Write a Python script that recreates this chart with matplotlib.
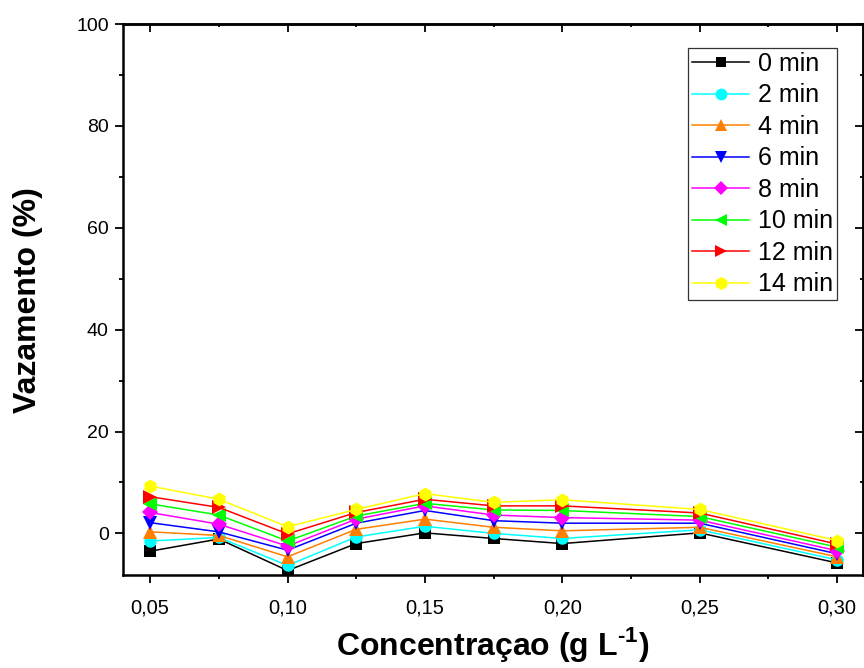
import numpy as np
import matplotlib
matplotlib.use('Agg')
import matplotlib.pyplot as plt
from matplotlib.ticker import MultipleLocator, FuncFormatter

plt.rcParams['font.family'] = ['Liberation Sans', 'DejaVu Sans']
plt.rcParams['mathtext.fontset'] = 'custom'
plt.rcParams['mathtext.rm'] = 'Liberation Sans:bold'

# concentration (g/L) and leakage (%) for each time
concentracao = [0.05, 0.075, 0.10, 0.125, 0.15, 0.175, 0.20, 0.25, 0.30]

tempos = ['0 min', '2 min', '4 min', '6 min', '8 min', '10 min', '12 min', '14 min']

vaz_0 = [-3.5, -1.1, -7.3, -2.0, 0.1, -1.0, -2.0, 0.1, -5.8]
vaz_2 = [-1.5, -0.8, -6.3, -0.7, 1.4, 0.0, -1.0, 0.7, -5.2]
vaz_4 = [0.3, -0.4, -4.6, 0.8, 2.8, 1.2, 0.5, 1.2, -4.6]
vaz_6 = [2.1, 0.3, -3.3, 2.0, 4.5, 2.5, 2.0, 2.0, -4.0]
vaz_8 = [4.1, 1.8, -2.5, 2.8, 5.4, 3.6, 3.1, 2.6, -3.4]
vaz_10 = [5.8, 3.6, -1.5, 3.4, 5.9, 4.6, 4.5, 3.3, -2.7]
vaz_12 = [7.2, 5.1, -0.1, 4.1, 6.7, 5.4, 5.4, 4.0, -2.1]
vaz_14 = [9.3, 6.7, 1.3, 4.7, 7.8, 6.1, 6.6, 4.7, -1.4]

series = [vaz_0, vaz_2, vaz_4, vaz_6, vaz_8, vaz_10, vaz_12, vaz_14]
cores = ['#000000', '#00FFFF', '#FF8000', '#0000FF', '#FF00FF', '#00FF00', '#FF0000', '#FFFF00']
marcadores = ['s', 'o', '^', 'v', 'D', '<', '>', 'h']
tamanhos = [8, 9, 9.5, 9.5, 8, 9.5, 9.5, 10]

fig = plt.figure(figsize=(8.64, 6.68), dpi=100)
ax = fig.add_axes([0.142, 0.139, 0.857, 0.825])

for y, cor, m, ms, nome in zip(series, cores, marcadores, tamanhos, tempos):
    ax.plot(concentracao, y, color=cor, linewidth=1.1, marker=m, markersize=ms,
            markeredgewidth=0, label=nome)

ax.set_xlim(0.04, 0.3095)
ax.set_ylim(-8.2, 100)

ax.xaxis.set_major_locator(MultipleLocator(0.05))
ax.xaxis.set_minor_locator(MultipleLocator(0.025))
ax.yaxis.set_major_locator(MultipleLocator(20))
ax.yaxis.set_minor_locator(MultipleLocator(10))
ax.xaxis.set_major_formatter(FuncFormatter(lambda v, p: '{:.2f}'.format(v).replace('.', ',')))
ax.yaxis.set_major_formatter(FuncFormatter(lambda v, p: '{:.0f}'.format(v)))

# outward ticks on left/bottom, inward on top/right (no labels there)
ax.tick_params(which='both', direction='out', width=1.3, labelsize=14)
ax.tick_params(which='major', length=6)
ax.tick_params(which='minor', length=3)
ax.tick_params(axis='x', which='major', pad=11, labelsize=14.5)
ax.tick_params(axis='y', which='major', pad=4)
sec_x = ax.secondary_xaxis('top')
sec_y = ax.secondary_yaxis('right')
for sec in (sec_x, sec_y):
    sec.tick_params(which='both', direction='in', width=1.3, labelsize=0,
                    labeltop=False, labelright=False)
    sec.tick_params(which='major', length=6)
    sec.tick_params(which='minor', length=2.5)
    for s in sec.spines.values():
        s.set_linewidth(1.8)
sec_x.xaxis.set_major_locator(MultipleLocator(0.05))
sec_x.xaxis.set_minor_locator(MultipleLocator(0.025))
sec_y.yaxis.set_major_locator(MultipleLocator(20))
sec_y.yaxis.set_minor_locator(MultipleLocator(10))
sec_x.set_xticklabels([])
sec_y.set_yticklabels([])

for s in ax.spines.values():
    s.set_linewidth(1.8)

ax.set_xlabel('Concentraçao (g L$^{\\text{-1}}$)', fontsize=23, fontweight='bold', labelpad=5)
ax.set_ylabel('Vazamento (%)', fontsize=23, fontweight='bold', labelpad=24)

leg = ax.legend(loc='upper left', bbox_to_anchor=(0.7636, 0.9564), borderaxespad=0,
                fontsize=18, frameon=True, fancybox=False, edgecolor='black',
                borderpad=0.15, labelspacing=0.3, handlelength=2.3,
                handletextpad=0.35, markerscale=0.95)
leg.get_frame().set_linewidth(0.9)

fig.savefig('out.png', dpi=100)
